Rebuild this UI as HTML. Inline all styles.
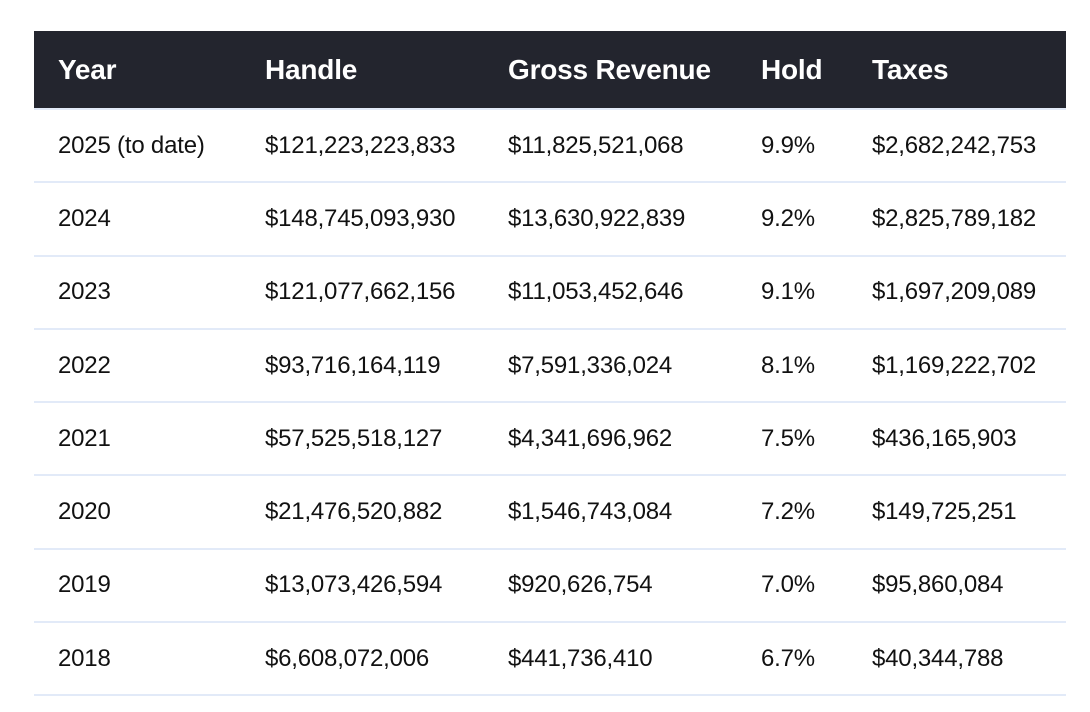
<!DOCTYPE html>
<html><head><meta charset="utf-8"><style>
body{margin:0;background:#fff;width:1090px;height:712px;overflow:hidden;font-family:"Liberation Sans",sans-serif;}
table{position:absolute;left:34px;top:31px;width:1032px;border-collapse:collapse;}
th{background:#23252e;color:#fff;font-size:28px;font-weight:bold;text-align:left;height:77px;padding:0;letter-spacing:-0.2px}
td{font-size:24px;color:#111;height:71.3px;padding:0;border-bottom:2px solid #e2eaf8;letter-spacing:-0.2px}
tr:first-child+tr td{border-top:2px solid #e2eaf8}
th:first-child,td:first-child{padding-left:24px;width:207px}
th:nth-child(2),td:nth-child(2){width:243px}
th:nth-child(3),td:nth-child(3){width:253px}
th:nth-child(4),td:nth-child(4){width:111px}
</style></head><body>
<table>
<tr><th>Year</th><th>Handle</th><th>Gross Revenue</th><th>Hold</th><th>Taxes</th></tr>
<tr><td>2025 (to date)</td><td>$121,223,223,833</td><td>$11,825,521,068</td><td>9.9%</td><td>$2,682,242,753</td></tr>
<tr><td>2024</td><td>$148,745,093,930</td><td>$13,630,922,839</td><td>9.2%</td><td>$2,825,789,182</td></tr>
<tr><td>2023</td><td>$121,077,662,156</td><td>$11,053,452,646</td><td>9.1%</td><td>$1,697,209,089</td></tr>
<tr><td>2022</td><td>$93,716,164,119</td><td>$7,591,336,024</td><td>8.1%</td><td>$1,169,222,702</td></tr>
<tr><td>2021</td><td>$57,525,518,127</td><td>$4,341,696,962</td><td>7.5%</td><td>$436,165,903</td></tr>
<tr><td>2020</td><td>$21,476,520,882</td><td>$1,546,743,084</td><td>7.2%</td><td>$149,725,251</td></tr>
<tr><td>2019</td><td>$13,073,426,594</td><td>$920,626,754</td><td>7.0%</td><td>$95,860,084</td></tr>
<tr><td>2018</td><td>$6,608,072,006</td><td>$441,736,410</td><td>6.7%</td><td>$40,344,788</td></tr>
</table>
</body></html>
